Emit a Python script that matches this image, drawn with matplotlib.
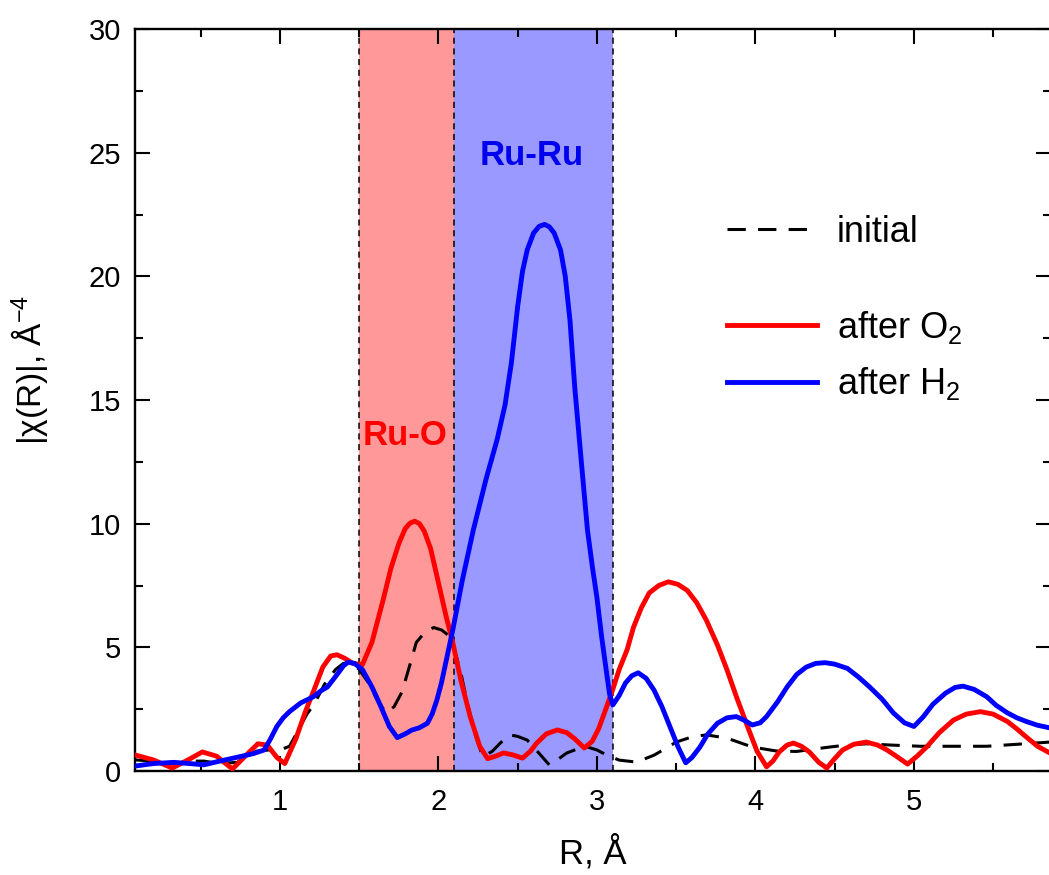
import matplotlib
matplotlib.use("Agg")
import matplotlib.pyplot as plt
from matplotlib.lines import Line2D

plt.rcParams['font.family'] = ['Liberation Sans', 'DejaVu Sans']
plt.rcParams['mathtext.fontset'] = 'custom'
plt.rcParams['mathtext.rm'] = 'Liberation Sans'
plt.rcParams['mathtext.it'] = 'Liberation Sans:italic'
plt.rcParams['mathtext.bf'] = 'Liberation Sans:bold'

# dados
r_inicial = [0.085, 0.2, 0.33, 0.45, 0.52, 0.62, 0.73, 0.85, 0.93, 1.0, 1.06, 1.12, 1.17, 1.22,
             1.28, 1.35, 1.40, 1.45, 1.50, 1.56, 1.62, 1.67, 1.72, 1.77, 1.82, 1.86, 1.92, 1.97,
             2.02, 2.06, 2.10, 2.14, 2.18, 2.23, 2.28, 2.34, 2.39, 2.45, 2.50, 2.56, 2.63, 2.70,
             2.76, 2.81, 2.88, 2.94, 3.00, 3.06, 3.14, 3.25, 3.36, 3.43, 3.50, 3.60, 3.69, 3.82,
             3.90, 3.98, 4.13, 4.26, 4.36, 4.47, 4.58, 4.70, 4.85, 5.04, 5.25, 5.46, 5.65, 5.86]
chi_inicial = [0.45, 0.4, 0.3, 0.4, 0.4, 0.3, 0.35, 0.8, 0.85, 0.85, 1.0, 1.7, 2.3, 2.75,
               3.5, 4.1, 4.35, 4.4, 4.1, 3.55, 2.8, 2.35, 2.6, 3.2, 4.3, 5.2, 5.65, 5.8,
               5.7, 5.5, 4.9, 4.0, 2.8, 1.5, 0.57, 0.8, 1.13, 1.46, 1.4, 1.25, 0.75, 0.24,
               0.5, 0.73, 0.9, 0.97, 0.85, 0.65, 0.44, 0.36, 0.64, 0.9, 1.17, 1.38, 1.46, 1.33,
               1.15, 0.97, 0.81, 0.79, 0.88, 0.97, 1.05, 1.1, 1.05, 1.0, 1.0, 1.0, 1.08, 1.17]

r_o2 = [0.085, 0.2, 0.32, 0.42, 0.51, 0.6, 0.70, 0.78, 0.86, 0.92, 0.98, 1.03, 1.1, 1.16,
        1.21, 1.27, 1.32, 1.36, 1.41, 1.46, 1.52, 1.58, 1.65, 1.70, 1.75, 1.79, 1.82, 1.85,
        1.88, 1.91, 1.95, 2.00, 2.05, 2.09, 2.14, 2.20, 2.26, 2.31, 2.36, 2.41, 2.47, 2.53,
        2.58, 2.62, 2.68, 2.75, 2.81, 2.86, 2.92, 2.97, 3.01, 3.05, 3.10, 3.14, 3.19, 3.23,
        3.28, 3.33, 3.39, 3.45, 3.51, 3.57, 3.63, 3.69, 3.76, 3.82, 3.88, 3.95, 4.01, 4.07,
        4.11, 4.15, 4.20, 4.24, 4.29, 4.34, 4.40, 4.45, 4.50, 4.55, 4.62, 4.70, 4.77, 4.83,
        4.90, 4.96, 5.02, 5.08, 5.16, 5.25, 5.33, 5.42, 5.50, 5.59, 5.65, 5.71, 5.78, 5.86]
chi_o2 = [0.65, 0.45, 0.12, 0.45, 0.77, 0.6, 0.08, 0.6, 1.1, 1.05, 0.55, 0.3, 1.3, 2.4,
          3.2, 4.2, 4.65, 4.7, 4.55, 4.35, 4.3, 5.2, 6.9, 8.2, 9.2, 9.8, 10.02, 10.1,
          10.0, 9.7, 9.0, 7.6, 6.2, 5.2, 3.7, 2.2, 1.0, 0.5, 0.6, 0.73, 0.65, 0.52,
          0.8, 1.13, 1.5, 1.66, 1.55, 1.3, 0.93, 1.2, 1.7, 2.4, 3.3, 4.1, 4.9, 5.8,
          6.6, 7.2, 7.5, 7.65, 7.55, 7.3, 6.8, 6.1, 5.1, 4.1, 3.0, 1.8, 0.8, 0.17,
          0.4, 0.77, 1.05, 1.13, 1.0, 0.77, 0.35, 0.12, 0.5, 0.85, 1.08, 1.17, 1.05, 0.85,
          0.55, 0.28, 0.6, 0.97, 1.55, 2.06, 2.3, 2.4, 2.3, 2.0, 1.7, 1.37, 1.0, 0.72]

r_h2 = [0.085, 0.2, 0.33, 0.43, 0.52, 0.62, 0.74, 0.83, 0.9, 0.94, 0.98, 1.02, 1.06, 1.13,
        1.21, 1.26, 1.30, 1.36, 1.40, 1.43, 1.47, 1.52, 1.58, 1.63, 1.69, 1.74, 1.79, 1.83,
        1.88, 1.93, 1.96, 1.99, 2.02, 2.05, 2.09, 2.15, 2.22, 2.30, 2.37, 2.42, 2.46, 2.50,
        2.53, 2.56, 2.60, 2.635, 2.67, 2.70, 2.73, 2.77, 2.80, 2.83, 2.86, 2.90, 2.94, 2.97,
        3.00, 3.03, 3.06, 3.08, 3.10, 3.14, 3.18, 3.22, 3.26, 3.31, 3.36, 3.41, 3.46, 3.51,
        3.56, 3.60, 3.65, 3.70, 3.76, 3.82, 3.88, 3.93, 3.98, 4.03, 4.07, 4.14, 4.20, 4.26,
        4.32, 4.38, 4.44, 4.50, 4.58, 4.65, 4.72, 4.80, 4.87, 4.94, 5.00, 5.06, 5.12, 5.20,
        5.26, 5.31, 5.38, 5.46, 5.52, 5.59, 5.65, 5.71, 5.78, 5.86]
chi_h2 = [0.2, 0.3, 0.35, 0.3, 0.25, 0.4, 0.57, 0.7, 0.85, 1.3, 1.8, 2.15, 2.4, 2.75,
          3.0, 3.25, 3.4, 3.9, 4.25, 4.4, 4.35, 4.1, 3.4, 2.7, 1.8, 1.35, 1.5, 1.65,
          1.75, 1.93, 2.3, 2.87, 3.6, 4.5, 5.7, 7.7, 9.75, 11.8, 13.4, 14.8, 16.5, 18.8,
          20.2, 21.07, 21.75, 22.02, 22.1, 22.0, 21.75, 21.07, 20.0, 18.2, 15.5, 12.6, 9.75, 8.3,
          7.0, 5.4, 4.0, 3.1, 2.67, 3.05, 3.56, 3.85, 3.97, 3.75, 3.27, 2.6, 1.8, 1.0,
          0.33, 0.55, 0.97, 1.5, 1.93, 2.15, 2.2, 2.05, 1.86, 1.95, 2.2, 2.8, 3.4, 3.9,
          4.2, 4.35, 4.38, 4.32, 4.15, 3.8, 3.4, 2.9, 2.35, 1.95, 1.8, 2.2, 2.7, 3.15,
          3.38, 3.43, 3.3, 3.0, 2.65, 2.35, 2.15, 2.0, 1.85, 1.74]

# regioes de coordenacao
regiao_ru_o = (1.5, 2.1)
regiao_ru_ru = (2.1, 3.1)

fig = plt.figure(figsize=(10.49, 8.75), dpi=100)
ax = fig.add_axes([135 / 1049, 104 / 875, 916 / 1049, 742 / 875])

ax.axvspan(*regiao_ru_o, color='#ff9999', lw=0, zorder=0)
ax.axvspan(*regiao_ru_ru, color='#9999ff', lw=0, zorder=0)
for xv in [regiao_ru_o[0], regiao_ru_o[1], regiao_ru_ru[1]]:
    ax.axvline(xv, color='black', lw=1.1, ls=(0, (4, 3)), zorder=1)

ax.plot(r_inicial, chi_inicial, color='black', lw=2.2, dashes=(6, 4), zorder=2)
ax.plot(r_o2, chi_o2, color='#ff0000', lw=3.5, zorder=3, solid_joinstyle='round')
ax.plot(r_h2, chi_h2, color='#0000ff', lw=3.5, zorder=4, solid_joinstyle='round')

ax.text(1.79, 13.55, 'Ru-O', color='#ff0000', fontsize=25, fontweight='bold',
        ha='center', va='center')
ax.text(2.59, 24.9, 'Ru-Ru', color='#0000ee', fontsize=25, fontweight='bold',
        ha='center', va='center')

ax.set_xlim(0.085, 5.865)
ax.set_ylim(0, 30)
ax.set_xticks([1, 2, 3, 4, 5])
ax.set_xticks([0.5, 1.5, 2.5, 3.5, 4.5, 5.5], minor=True)
ax.set_yticks([0, 5, 10, 15, 20, 25, 30])
ax.set_yticks([2.5, 7.5, 12.5, 17.5, 22.5, 27.5], minor=True)
ax.tick_params(which='both', direction='in', top=True, right=True, width=1.5, labelsize=21)
ax.tick_params(which='major', length=11)
ax.tick_params(which='minor', length=6)
ax.tick_params(axis='x', pad=12)
ax.tick_params(axis='y', pad=10)
for s in ax.spines.values():
    s.set_linewidth(1.7)

ax.set_xlabel('R, Å', fontsize=25, labelpad=14)
ax.set_ylabel('|χ(R)|, Å$^{-4}$', fontsize=24)
ax.yaxis.set_label_coords(-0.093, 0.54)

# legenda em duas partes (tem um espaco entre elas)
h_ini = Line2D([], [], color='black', lw=2.2, dashes=(6, 4))
h_o2 = Line2D([], [], color='#ff0000', lw=3.5)
h_h2 = Line2D([], [], color='#0000ff', lw=3.5)
leg1 = ax.legend([h_ini], ['initial'], loc='center left', bbox_to_anchor=(0.646, 0.726),
                 frameon=False, fontsize=26, handlelength=2.5, handletextpad=0.55,
                 borderpad=0, borderaxespad=0)
ax.add_artist(leg1)
ax.legend([h_o2, h_h2], ['after O$_2$', 'after H$_2$'], loc='center left',
          bbox_to_anchor=(0.646, 0.56), frameon=False, fontsize=26, handlelength=2.5,
          handletextpad=0.55, labelspacing=0.55, borderpad=0, borderaxespad=0)

plt.savefig('out.png', dpi=100)
plt.close()
